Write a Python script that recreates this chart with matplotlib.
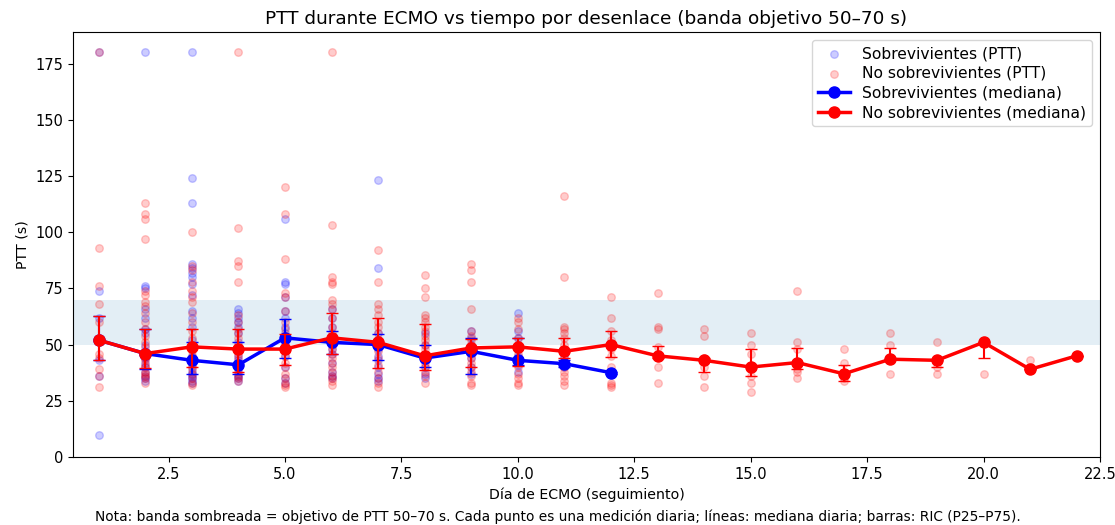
import numpy as np
import matplotlib
matplotlib.use("Agg")
import matplotlib.pyplot as plt

# ---- Data ----
days = list(range(1, 23))

surv_points = {
    1: [180, 74, 62, 52, 43, 36, 10],
    2: [180, 76, 75, 66, 62, 57, 55, 50, 47, 46, 44, 42, 40, 38, 36, 35, 34],
    3: [180, 124, 113, 86, 84, 82, 80, 77, 72, 65, 62, 58, 52, 48, 45, 43, 42, 40, 38, 37, 36, 35, 34, 33],
    4: [66, 64, 62, 60, 58, 55, 51, 48, 45, 43, 41, 40, 39, 37, 36, 35, 34],
    5: [106, 78, 77, 71, 65, 62, 58, 55, 53, 50, 45, 40, 35, 33],
    6: [66, 62, 58, 54, 52, 50, 48, 46, 42, 38, 36, 35],
    7: [123, 84, 55, 50, 48, 45, 43, 40, 37, 35, 34],
    8: [55, 50, 45, 43, 40, 37, 35],
    9: [56, 53, 50, 47, 44, 40, 37],
    10: [64, 56, 53, 48, 45, 43, 41, 38],
    11: [45, 42, 41, 40],
    12: [38, 37],
}

nonsurv_points = {
    1: [180, 93, 76, 68, 60, 52, 46, 44, 39, 36, 31],
    2: [113, 108, 106, 97, 74, 72, 69, 67, 64, 60, 57, 54, 51, 49, 46, 44, 43, 41, 40, 38, 37, 36, 35, 33],
    3: [100, 85, 83, 78, 74, 71, 69, 64, 60, 56, 53, 50, 49, 47, 45, 43, 41, 39, 37, 35, 33, 32],
    4: [180, 102, 87, 85, 78, 63, 60, 57, 55, 53, 50, 48, 46, 44, 42, 40, 38, 36, 35, 34],
    5: [120, 108, 88, 73, 71, 65, 60, 57, 54, 50, 48, 45, 42, 40, 37, 35, 33, 32, 31],
    6: [180, 103, 80, 78, 77, 70, 68, 66, 62, 58, 55, 53, 50, 48, 46, 44, 42, 40, 38, 36, 35, 34, 32],
    7: [92, 78, 68, 66, 63, 60, 58, 55, 52, 50, 47, 44, 41, 38, 35, 33, 31],
    8: [81, 75, 71, 63, 62, 60, 58, 56, 54, 52, 50, 48, 46, 44, 42, 40, 38, 36, 33],
    9: [86, 83, 78, 66, 56, 54, 52, 50, 48, 46, 44, 42, 40, 38, 36, 33, 32],
    10: [62, 60, 57, 53, 50, 48, 46, 44, 42, 40, 37, 35, 33, 32],
    11: [116, 80, 58, 57, 55, 53, 50, 47, 44, 42, 40, 38, 36, 34, 32],
    12: [71, 62, 56, 52, 50, 48, 45, 40, 38, 33, 32, 31],
    13: [73, 58, 57, 49, 45, 40, 33],
    14: [57, 54, 44, 43, 40, 36, 31],
    15: [55, 50, 46, 40, 36, 33, 29],
    16: [74, 51, 48, 42, 39, 38, 35],
    17: [48, 42, 37, 35, 34],
    18: [55, 50, 43.5, 37],
    19: [51, 43, 40, 37],
    20: [51, 37],
    21: [43, 39],
    22: [45],
}

surv_days = list(range(1, 13))
surv_median = [52, 46, 43, 41, 53, 51, 50, 44, 47, 43, 41.5, 37.5]
surv_q25 = [43, 39, 37, 37, 44, 46, 43, 40, 37, 41, 40, 37]
surv_q75 = [62.5, 57, 51, 51, 61.3, 56, 54.6, 50, 53, 53, 43, 38]

ns_days = list(range(1, 23))
ns_median = [52, 46, 49, 48, 48, 53, 51, 45, 48.5, 49, 47, 50, 45, 43, 40, 42, 37, 43.5, 43, 51, 39, 45]
ns_q25 = [43, 39.5, 40, 38, 41, 45.7, 39.5, 38.6, 40, 40.4, 44, 44.4, 44, 38, 36, 39, 34, 43.5, 40, 44, 39, 45]
ns_q75 = [62.5, 57, 57, 57, 54.6, 64, 61.8, 59, 52.4, 53, 53, 56, 49.3, 44, 48, 48.4, 41, 48.6, 43, 51, 39, 45]

# ---- Plot ----
fig = plt.figure(figsize=(11.15, 5.25), dpi=100)
ax = fig.add_axes([0.0655, 0.1295, 0.921, 0.8095])

ax.axhspan(50, 70, color='C0', alpha=0.12, lw=0, zorder=0)

sx, sy = [], []
for d, vals in surv_points.items():
    sx += [d] * len(vals)
    sy += vals
nx, ny = [], []
for d, vals in nonsurv_points.items():
    nx += [d] * len(vals)
    ny += vals

ax.scatter(sx, sy, s=30, color='blue', alpha=0.2, label='Sobrevivientes (PTT)', zorder=2)
ax.scatter(nx, ny, s=30, color='red', alpha=0.2, label='No sobrevivientes (PTT)', zorder=2)

s_med = np.array(surv_median)
s_err = [s_med - np.array(surv_q25), np.array(surv_q75) - s_med]
ax.plot(surv_days, s_med, color='blue', marker='o', ms=8, lw=2.5,
        label='Sobrevivientes (mediana)', zorder=3)
ax.errorbar(surv_days, s_med, yerr=s_err, fmt='none', ecolor='blue',
            capsize=4, elinewidth=1.5, zorder=3)

n_med = np.array(ns_median)
n_err = [n_med - np.array(ns_q25), np.array(ns_q75) - n_med]
ax.plot(ns_days, n_med, color='red', marker='o', ms=8, lw=2.5,
        label='No sobrevivientes (mediana)', zorder=4)
ax.errorbar(ns_days, n_med, yerr=n_err, fmt='none', ecolor='red',
            capsize=4, elinewidth=1.5, zorder=4)

ax.set_xlim(0.45, 22.5)
ax.set_ylim(0, 189)
ax.set_xticks([2.5, 5.0, 7.5, 10.0, 12.5, 15.0, 17.5, 20.0, 22.5])
ax.set_yticks([0, 25, 50, 75, 100, 125, 150, 175])
ax.tick_params(labelsize=10.5)

ax.set_title('PTT durante ECMO vs tiempo por desenlace (banda objetivo 50–70 s)', fontsize=13.3)
ax.set_xlabel('Día de ECMO (seguimiento)', fontsize=10.2)
ax.set_ylabel('PTT (s)', fontsize=10.2)
ax.legend(loc='upper right', fontsize=11.2, labelspacing=0.3)

fig.text(0.5, 0.008, 'Nota: banda sombreada = objetivo de PTT 50–70 s. Cada punto es una medición diaria; '
         'líneas: mediana diaria; barras: RIC (P25–P75).', ha='center', fontsize=9.9)

fig.savefig('out.png', dpi=100)
